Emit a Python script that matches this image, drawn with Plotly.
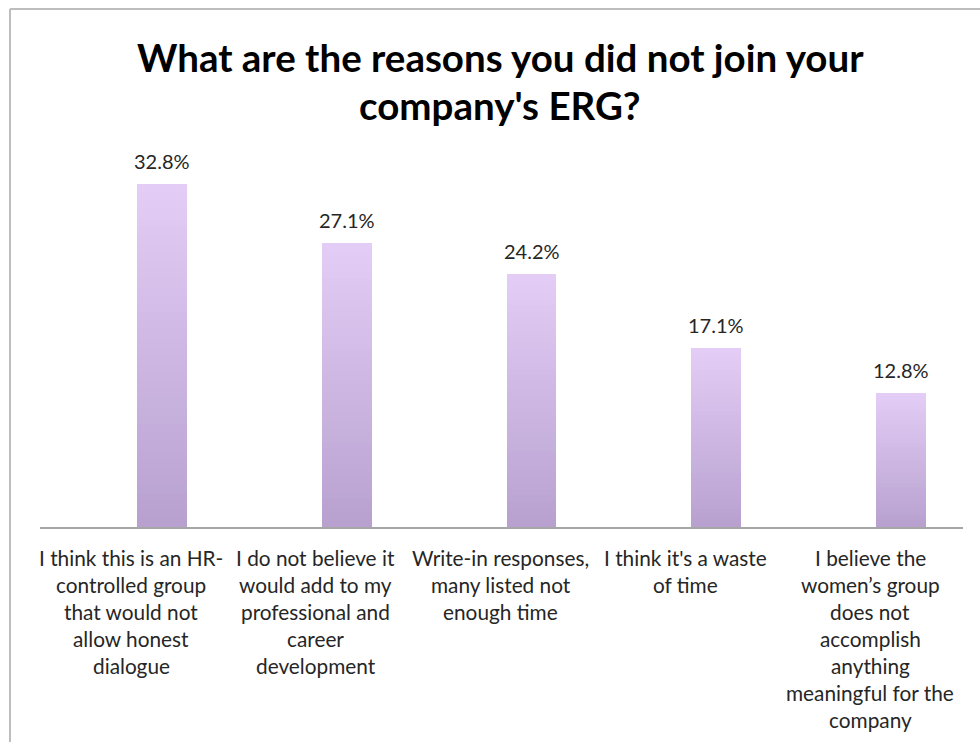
import plotly.graph_objects as go

title_lines = ["What are the reasons you did not join your", "company's ERG?"]
category_lines = [
    ["I think this is an HR-", "controlled group", "that would not", "allow honest", "dialogue"],
    ["I do not believe it", "would add to my", "professional and", "career", "development"],
    ["Write-in responses,", "many listed not", "enough time"],
    ["I think it's a waste", "of time"],
    ["I believe the", "women\u2019s group", "does not", "accomplish", "anything", "meaningful for the", "company"],
]
categories = [" ".join(c) for c in category_lines]
values = [32.8, 27.1, 24.2, 17.1, 12.8]
value_labels = ["32.8%", "27.1%", "24.2%", "17.1%", "12.8%"]

FONT = "Lato"
top_rgb = (227, 205, 246)
bot_rgb = (184, 161, 207)
N = 40

fig = go.Figure()
xs = list(range(len(values)))
for k in range(N):
    frac = (N - k) / N
    t = k / (N - 1)
    col = tuple(round(top_rgb[i] + (bot_rgb[i] - top_rgb[i]) * t) for i in range(3))
    fig.add_trace(go.Bar(
        x=xs, y=[v * frac for v in values],
        marker=dict(color="rgb(%d,%d,%d)" % col, line=dict(width=0)),
        width=0.27, hoverinfo="skip", showlegend=False,
    ))

PLOT_TOP, PLOT_BOT = 150, 527
PH = PLOT_BOT - PLOT_TOP

annotations = []
for k, ln in enumerate(title_lines):
    annotations.append(dict(x=(500 - 40) / 923, y=(PLOT_BOT - (57 + 48 * k)) / PH, xref="paper", yref="paper",
                            text="<b>%s</b>" % ln, showarrow=False, xanchor="center", yanchor="middle",
                            font=dict(family=FONT, size=38.5, color="black")))
for i, (v, lab) in enumerate(zip(values, value_labels)):
    annotations.append(dict(x=i, y=v, xref="x", yref="y", text=lab, showarrow=False,
                            yanchor="bottom", yshift=9,
                            font=dict(family=FONT, size=20, color="#262626")))
for i, lines in enumerate(category_lines):
    for k, ln in enumerate(lines):
        annotations.append(dict(x=i, y=0, xref="x", yref="paper", text=ln, showarrow=False,
                                yanchor="middle", yshift=-(30 + 27 * k), xshift=-31,
                                font=dict(family=FONT, size=20.8, color="#262626")))

spacing = 184.75
x0 = -(162 - 40) / spacing
x1 = x0 + 923 / spacing

fig.update_layout(
    width=980, height=742,
    margin=dict(l=40, r=17, t=PLOT_TOP, b=742 - PLOT_BOT),
    paper_bgcolor="white", plot_bgcolor="white",
    barmode="overlay", bargap=0,
    xaxis=dict(range=[x0, x1], showticklabels=False, showgrid=False, zeroline=False,
               showline=True, linecolor="#a6a6a6", linewidth=2, ticks=""),
    yaxis=dict(range=[0, 36.0], visible=False),
    annotations=annotations,
    shapes=[
        dict(type="line", xref="paper", yref="paper", x0=-30 / 923, x1=-30 / 923,
             y0=(PLOT_BOT - 9) / PH, y1=-1.0, line=dict(color="#bdbdbd", width=2)),
        dict(type="line", xref="paper", yref="paper", x0=-30 / 923, x1=1.1,
             y0=(PLOT_BOT - 9) / PH, y1=(PLOT_BOT - 9) / PH, line=dict(color="#bdbdbd", width=2)),
    ],
)

fig.write_html("out.html")
